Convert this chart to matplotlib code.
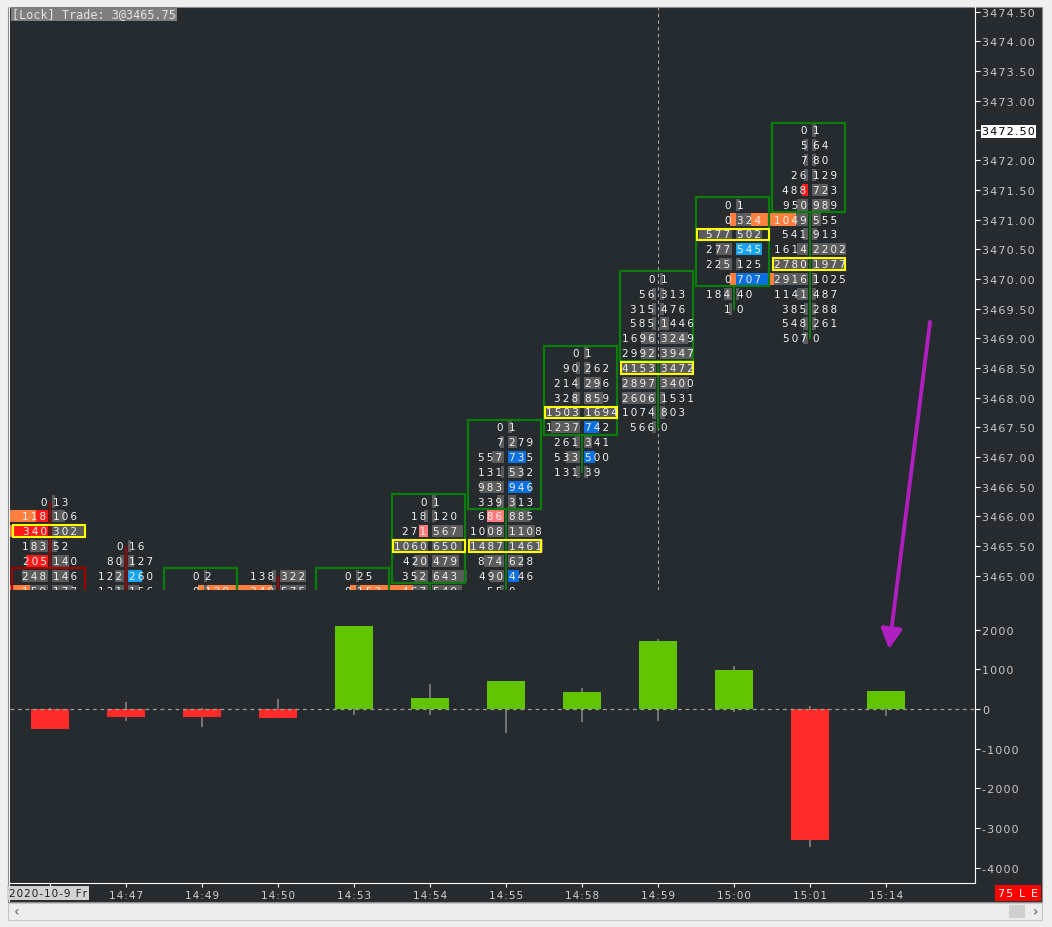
import numpy as np
import matplotlib
matplotlib.use('Agg')
import matplotlib.pyplot as plt
from matplotlib.patches import Rectangle, FancyArrowPatch

W, H = 1052, 928

times = ['2020-10-9 Fr', '14:47', '14:49', '14:50', '14:53', '14:54', '14:55',
         '14:58', '14:59', '15:00', '15:01', '15:14']

# footprint rows, top row price then bid/ask volumes going down one tick (0.25) per row
top_price = [3466.25, 3465.50, 3465.00, 3465.00, 3465.00, 3466.25, 3467.50,
             3468.75, 3470.00, 3471.25, 3472.50]
bid_vol = [
    [0, 118, 340, 183, 205, 248, 159],
    [0, 80, 122, 121],
    [0, 0],
    [138, 349],
    [0, 0],
    [0, 18, 271, 1060, 420, 352, 467],
    [0, 7, 557, 131, 983, 339, 686, 1008, 1487, 874, 490, 55],
    [0, 90, 214, 328, 1503, 1237, 261, 533, 131],
    [0, 56, 315, 585, 1696, 2992, 4153, 2897, 2606, 1074, 566],
    [0, 0, 577, 277, 225, 0, 184, 1],
    [0, 5, 7, 26, 488, 950, 1049, 541, 1614, 2780, 2916, 1141, 385, 548, 507],
]
ask_vol = [
    [13, 106, 302, 52, 140, 146, 177],
    [16, 127, 260, 156],
    [2, 129],
    [322, 575],
    [25, 152],
    [1, 120, 567, 650, 479, 643, 549],
    [1, 279, 735, 532, 946, 313, 885, 1108, 1461, 628, 446, 0],
    [1, 262, 296, 859, 1694, 742, 341, 500, 39],
    [1, 313, 476, 1446, 3249, 3947, 3472, 3400, 1531, 803, 0],
    [1, 324, 502, 545, 125, 707, 40, 0],
    [1, 64, 80, 129, 723, 989, 555, 913, 2202, 1977, 1025, 487, 288, 261, 0],
]
# relative length of the volume bars behind the numbers (0..1)
bid_w = [
    [0, .31, .97, .49, .60, .71, .49],
    [0, .11, .23, .23],
    [0, 0],
    [.11, .09],
    [0, 0],
    [0, .09, .23, .94, .37, .37, .40],
    [0, .09, .31, .06, .66, .17, .46, .46, .94, .54, .37, .09],
    [0, .09, .11, .17, .94, .80, .14, .37, .09],
    [0, .09, .09, .09, .40, .40, .94, .94, .94, .09, .11],
    [0, 0, .91, .43, .34, 0, .20, .06],
    [0, .09, .09, .09, .15, .29, .31, .14, .29, .97, .94, .29, .09, .14, .14],
]
ask_w = [
    [.06, .34, .94, .14, .46, .46, .57],
    [.06, .17, .37, .29],
    [.06, .06],
    [.71, .71],
    [.06, .11],
    [.09, .09, .86, .83, .74, .97, .83],
    [.09, .23, .49, .37, .63, .20, .60, .74, .97, .40, .29, 0],
    [.09, .17, .46, .51, .94, .40, .20, .29, .09],
    [.06, .09, .09, .23, .77, .91, .91, .80, .14, .14, 0],
    [.09, .40, .71, .71, .09, .94, .06, 0],
    [.09, .09, .09, .09, .43, .49, .23, .14, .94, .94, .14, .09, .09, .09, 0],
]
# g gray, r red, p salmon, b blue, c light blue
bid_c = ['grrgrgg', 'gggg', 'gg', 'gg', 'gg', 'ggpgggg', 'ggggggpggggg',
         'ggggggggg', 'ggggggggggg', 'gggggggg', 'ggggrgggggggggg']
ask_c = ['ggggggg', 'ggcg', 'gg', 'gg', 'gg', 'ggggggg', 'ggbgbgggggbg',
         'gggggbgbg', 'ggggggggggg', 'gggcgbgg', 'ggggggggggggggg']
# orange imbalance highlights (column, price, side)
orange_cells = [(0, 3466.00, 'bid'), (0, 3465.75, 'bid'), (0, 3464.75, 'bid'),
                (2, 3464.75, 'ask'), (3, 3464.75, 'bid'), (4, 3464.75, 'ask'),
                (5, 3464.75, 'bid'), (9, 3471.00, 'ask'), (9, 3470.00, 'ask'),
                (10, 3471.00, 'bid'), (10, 3470.00, 'bid')]
poc = [3465.75, None, None, None, None, 3465.50, 3465.50, 3467.75, 3468.50, 3470.75, 3470.25]

# candle body / wicks
body_top = [3465.00, 3464.50, 3465.00, 3464.50, 3465.00, 3466.25, 3467.50, 3468.75, 3470.00, 3471.25, 3472.50]
body_bot = [3463.50, 3463.50, 3463.50, 3463.50, 3463.50, 3465.00, 3466.25, 3467.50, 3468.75, 3470.00, 3471.25]
high = [3466.25, 3465.50, 3465.00, 3465.00, 3465.00, 3466.25, 3467.50, 3468.75, 3470.00, 3471.25, 3472.50]
low = [3463.00, 3463.00, 3463.00, 3463.00, 3463.00, 3464.50, 3464.50, 3466.75, 3467.50, 3469.50, 3469.00]
candle_dir = ['d', 'd', 'u', 'd', 'u', 'u', 'u', 'u', 'u', 'u', 'u']

# delta study
delta = [-500, -195, -195, -225, 2100, 280, 710, 430, 1700, 990, -3300, 455]
delta_hi = [30, 175, 25, 255, 2100, 630, 710, 530, 1770, 1090, 70, 455]
delta_lo = [-500, -295, -450, -225, -150, -150, -605, -320, -295, -85, -3480, -170]

price_ticks = np.arange(3465.0, 3474.51, 0.5)
delta_ticks = [2000, 1000, 0, -1000, -2000, -3000, -4000]
last_price = 3472.50

BG = '#252b2e'
pal = {'g': '#5c5c5c', 'r': '#ff1a1a', 'p': '#ff7b7b', 'b': '#0a6fe0', 'c': '#15a3f3'}
TXT = '#f2f2f2'
plt.rcParams['font.family'] = 'DejaVu Sans'


def spaced(s, sep='\u2009'):
    return sep.join(str(s))


def fx(px):
    return px / W


def fy(py):
    return 1 - py / H


fig = plt.figure(figsize=(W / 100, H / 100), dpi=100, facecolor='#efefef')
fig.add_artist(Rectangle((fx(8), fy(903)), fx(1042) - fx(8), fy(8) - fy(903),
                         transform=fig.transFigure, fc=BG, ec='#8c8c8c', lw=0.8, zorder=0))
fig.add_artist(Rectangle((fx(9), fy(903)), fx(10) - fx(9), fy(8) - fy(903),
                         transform=fig.transFigure, fc='#f4f4f4', ec='none', zorder=0.1))

ax_p = fig.add_axes([fx(10), fy(591), fx(975) - fx(10), fy(8) - fy(591)])
ax_d = fig.add_axes([fx(10), fy(884), fx(975) - fx(10), fy(592) - fy(884)])
for ax in (ax_p, ax_d):
    ax.set_facecolor('none')
    ax.set_xlim(-0.526, 12.171)
    for s in ('left', 'top', 'bottom'):
        ax.spines[s].set_visible(False)
    ax.spines['right'].set_color('white')
    ax.yaxis.tick_right()
    ax.tick_params(axis='y', colors='white', labelcolor='#c8c8c8', length=3.5,
                   width=0.8, pad=1.5, labelsize=8)

ax_p.set_ylim(3464.76, 3474.58)
ax_p.set_xticks([])
ax_p.set_yticks(price_ticks, labels=[spaced('%.2f' % v, '\u200a') for v in price_ticks])
for lbl, v in zip(ax_p.get_yticklabels(), price_ticks):
    if abs(v - last_price) < 1e-6:
        lbl.set_color('black')
        lbl.set_bbox(dict(boxstyle='square,pad=0.12', fc='white', ec='none'))

HALF = 0.47
ROW_H = 0.205
GAP = 0.032

for col, p, side in orange_cells:
    if side == 'bid':
        ax_p.barh(p, 0.50, left=col - 0.53, height=ROW_H, color='#ff7f3f', zorder=1)
    else:
        ax_p.barh(p, 0.51, left=col - 0.05, height=ROW_H, color='#ff7f3f', zorder=1)

for c in range(len(bid_vol)):
    n = len(bid_vol[c])
    prices = top_price[c] - 0.25 * np.arange(n)
    wc = '#0b7d0b' if candle_dir[c] == 'u' else '#a00000'
    # wicks
    if high[c] > body_top[c]:
        ax_p.vlines(c, body_top[c] + 0.125, high[c], color=wc, lw=1.4, zorder=1.5)
    if low[c] < body_bot[c]:
        ax_p.vlines(c, low[c] - 0.02, body_bot[c] - 0.125, color=wc, lw=1.4, zorder=1.5)
    ax_p.add_patch(Rectangle((c - 0.497, body_bot[c] - 0.125), 0.962,
                             body_top[c] - body_bot[c] + 0.25, fill=False,
                             ec=wc, lw=1.6, zorder=3))
    ax_p.barh(prices, -np.array(bid_w[c]) * HALF, left=c - GAP, height=ROW_H,
              color=[pal[k] for k in bid_c[c]], zorder=2)
    ax_p.barh(prices, np.array(ask_w[c]) * HALF, left=c + GAP, height=ROW_H,
              color=[pal[k] for k in ask_c[c]], zorder=2)
    for p, b, a in zip(prices, bid_vol[c], ask_vol[c]):
        ax_p.text(c - 0.045, p, spaced(b), ha='right', va='center', color=TXT,
                  fontsize=7.5, zorder=4, clip_on=True)
        ax_p.text(c + 0.035, p, spaced(a), ha='left', va='center', color=TXT,
                  fontsize=7.5, zorder=4, clip_on=True)
    if poc[c] is not None:
        ax_p.add_patch(Rectangle((c - 0.49, poc[c] - 0.097), 0.945, 0.194, fill=False,
                                 ec='#ffff00', lw=1.5, zorder=3.5))

ax_p.axvline(8, color='#a8a8a8', lw=0.8, ls=(0, (3, 3)), zorder=0.5)

# delta panel
x = np.arange(len(delta))
ax_d.set_ylim(-4383, 2972)
ax_d.vlines(x, delta_lo, delta_hi, color='#8a8a8a', lw=1.1, zorder=1)
ax_d.bar(x, delta, width=0.51, color=['#62c400' if d > 0 else '#ff2a2a' for d in delta],
         zorder=2)
ax_d.axhline(0, color='#a0a0a0', lw=0.9, ls=(0, (3, 3)), zorder=3)
ax_d.set_yticks(delta_ticks, labels=[spaced(str(v), '\u200a') for v in delta_ticks])
ax_d.spines['bottom'].set_visible(True)
ax_d.spines['bottom'].set_color('white')
ax_d.set_xticks(x, labels=[''] + [spaced(t, '\u200a') for t in times[1:]])
ax_d.tick_params(axis='x', colors='white', labelcolor='#d0d0d0', length=3,
                 width=0.8, pad=2, labelsize=7.5)

# header / footer widgets
fig.text(fx(12), fy(15), '[Lock] Trade: 3@3465.75', ha='left', va='center',
         fontsize=8.5, family='DejaVu Sans Mono', color='#e4e4e4',
         bbox=dict(boxstyle='square,pad=0.08', fc='#7f7f7f', ec='none'))
fig.text(fx(9), fy(894), spaced(times[0], '\u200a'), ha='left', va='center', fontsize=7.5,
         color='#1e1e1e', bbox=dict(boxstyle='square,pad=0.22', fc='#d2d2d2', ec='none'))
fig.text(fx(1018), fy(894), spaced('75 L E', '\u200a'), ha='center', va='center',
         fontsize=8, color='white',
         bbox=dict(boxstyle='square,pad=0.3', fc='#ff0000', ec='none'))
fig.add_artist(Rectangle((fx(8), fy(921)), fx(1042) - fx(8), fy(904) - fy(921),
                         transform=fig.transFigure, fc='#ededed', ec='#c6c6c6', lw=0.8))
fig.add_artist(Rectangle((fx(1009), fy(919)), fx(1025) - fx(1009), fy(906) - fy(919),
                         transform=fig.transFigure, fc='#cfcfcf', ec='none'))
fig.text(fx(17), fy(912), '\u2039', ha='center', va='center', fontsize=10, color='#555555')
fig.text(fx(1035), fy(912), '\u203a', ha='center', va='center', fontsize=10, color='#555555')

fig.add_artist(FancyArrowPatch((fx(930), fy(323)), (fx(889), fy(650)),
                               transform=fig.transFigure,
                               arrowstyle='-|>,head_length=0.6,head_width=0.32',
                               mutation_scale=20, shrinkA=0, shrinkB=0,
                               color='#b01fc0', lw=2.8))

fig.savefig('out.png', dpi=100, facecolor=fig.get_facecolor())
